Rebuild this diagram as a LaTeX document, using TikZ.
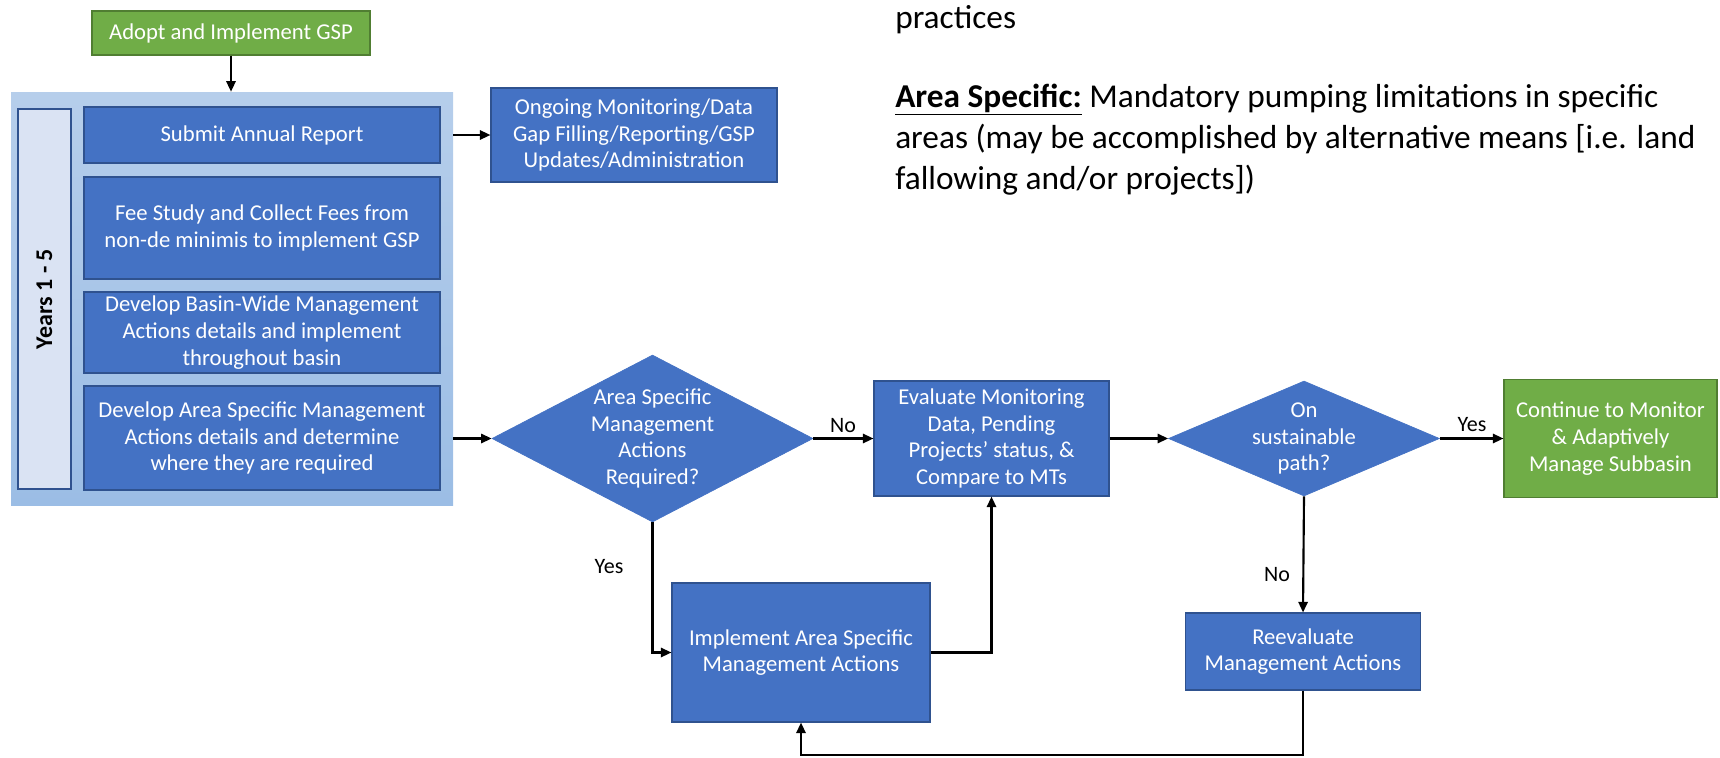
\documentclass[tikz,border=0pt]{standalone}
\usepackage{fontspec}
\setmainfont{Carlito}
\usetikzlibrary{shapes.geometric,arrows.meta}
\definecolor{boxblue}{HTML}{4472C4}
\definecolor{boxedge}{HTML}{2F528F}
\definecolor{boxgreen}{HTML}{70AD47}
\definecolor{greenedge}{HTML}{507E32}
\definecolor{contTop}{HTML}{B6CEEB}
\definecolor{contBot}{HTML}{9BBDE5}
\definecolor{yearsfill}{HTML}{DAE3F3}
\tikzset{
  bluebox/.style={rectangle, draw=boxedge, line width=0.8pt, fill=boxblue, text=white,
    align=center, inner sep=2pt, font=\fontsize{17}{20}\selectfont},
  greenbox/.style={bluebox, fill=boxgreen, draw=greenedge},
  decision/.style={diamond, fill=boxblue, draw=boxblue, line width=0.5pt, inner sep=0pt},
  dtext/.style={text=white, align=center, font=\fontsize{17}{20}\selectfont, inner sep=0pt},
  contbox/.style={rectangle, top color=contTop, bottom color=contBot, draw=none, inner sep=0pt},
  yearsbox/.style={rectangle, fill=yearsfill, draw=boxedge, line width=0.8pt, inner sep=0pt,
    font=\fontsize{18}{21}\selectfont\bfseries},
  arr/.style={line width=1.6pt, -{Triangle[length=8pt,width=7pt]}},
  lbl/.style={text=black, inner sep=0pt, font=\fontsize{16.5}{19}\selectfont},
  rt/.style={text=black, inner sep=0pt, font=\fontsize{25}{31}\selectfont},
}
\begin{document}
\begin{tikzpicture}[x=0.75pt,y=-0.75pt]
\useasboundingbox (0,0) rectangle (1720,757);
% nodes
\node[greenbox, minimum width=208.5pt, minimum height=33pt] (adopt) at (231,33) {Adopt and Implement GSP};
\node[contbox, minimum width=331.5pt, minimum height=309.75pt] (cont) at (232,298.5) {};
\node[yearsbox, minimum width=39.75pt, minimum height=285pt] (years) at (44.5,299) {\rotatebox{90}{Years 1 - 5}};
\node[bluebox, minimum width=267pt, minimum height=42pt] (submit) at (262,135) {Submit Annual Report};
\node[bluebox, minimum width=267pt, minimum height=76.5pt] (fee) at (262,228) {Fee Study and Collect Fees from\\non-de minimis to implement GSP};
\node[bluebox, minimum width=267pt, minimum height=60.75pt] (basin) at (262,332.5) {Develop Basin-Wide Management\\Actions details and implement\\throughout basin};
\node[bluebox, minimum width=267pt, minimum height=78pt] (develop) at (262,438) {Develop Area Specific Management\\Actions details and determine\\where they are required};
\node[bluebox, minimum width=214.5pt, minimum height=70.5pt] (ongoing) at (634,135) {Ongoing Monitoring/Data\\Gap Filling/Reporting/GSP\\Updates/Administration};
\node[decision, minimum width=240.75pt, minimum height=125.25pt] (d1) at (652.5,438.5) {};
\node[dtext] (d1t) at (d1) {Area Specific\\Management\\Actions\\Required?};
\node[bluebox, minimum width=176.25pt, minimum height=86.25pt] (eval) at (991.5,438.5) {Evaluate Monitoring\\Data, Pending\\Projects’ status, \&\\Compare to MTs};
\node[decision, minimum width=203.25pt, minimum height=86.25pt] (d2) at (1304,438.5) {};
\node[dtext] (d2t) at (d2) {On\\sustainable\\path?};
\node[greenbox, minimum width=159.75pt, minimum height=88.5pt] (cont2) at (1610.5,438.5) {Continue to Monitor\\\& Adaptively\\Manage Subbasin};
\node[bluebox, minimum width=193.5pt, minimum height=104.25pt] (impl) at (801,652.5) {Implement Area Specific\\Management Actions};
\node[bluebox, minimum width=176.25pt, minimum height=57.75pt] (reeval) at (1303,651.5) {Reevaluate\\Management Actions};
% labels
\node[lbl] (yes1) at (609,567) {Yes};
\node[lbl] (no1) at (843,426) {No};
\node[lbl] (yes2) at (1472,425) {Yes};
\node[lbl] (no2) at (1277,575) {No};
% right text
\node[rt, anchor=base west] (t0) at (895,28) {practices};
\node[rt, anchor=base west] (t1) at (895,107) {\underline{\textbf{Area Specific:}} Mandatory pumping limitations in specific};
\node[rt, anchor=base west] (t2) at (895,148) {areas (may be accomplished by alternative means [i.e. land};
\node[rt, anchor=base west] (t3) at (895,189) {fallowing and/or projects])};
% connectors
\coordinate (loop) at (1303,755);
\draw[arr] (adopt.south) -- (adopt.south |- cont.north);
\draw[arr] (submit.east -| cont.east) -- (ongoing.west);
\draw[arr] (cont.east |- d1.west) -- (d1.west);
\draw[arr] (d1.east) -- (eval.west);
\draw[arr] (eval.east) -- (d2.west);
\draw[arr] (d2.east) -- (cont2.west);
\draw[arr] (d1.south) |- (impl.west);
\draw[arr] (impl.east) -| (eval.south);
\draw[arr] (d2.south) -- (reeval.north);
\draw[arr] (reeval.south) -- (loop) -| (impl.south);
\end{tikzpicture}
\end{document}
